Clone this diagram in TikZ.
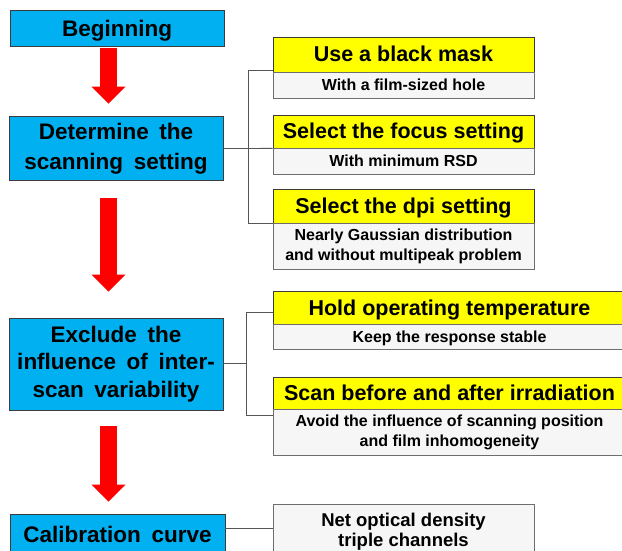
\documentclass[tikz,border=0pt]{standalone}
\usepackage{fontspec}
\setmainfont{Liberation Sans}
\newfontfamily\widefont[WordSpace=1.7]{Liberation Sans}
\usetikzlibrary{arrows.meta,calc}
\definecolor{skyb}{HTML}{00B0F0}
\definecolor{ylw}{HTML}{FFFF00}
\definecolor{boxline}{HTML}{3C3C3C}
\definecolor{wfill}{HTML}{F6F6F6}
\definecolor{wline}{HTML}{6E6E6E}
\definecolor{conncol}{HTML}{555555}
\definecolor{arrred}{HTML}{FF0000}
\begin{document}
\begin{tikzpicture}[x=1pt,y=-1pt,
  bluebox/.style={draw=boxline, fill=skyb, line width=0.8pt, inner sep=0pt,
    align=center, font=\widefont\bfseries\fontsize{22.5}{30}\selectfont},
  yhead/.style={draw=boxline, fill=ylw, line width=0.8pt, inner sep=0pt,
    text height=17pt, text depth=2pt, font=\bfseries\fontsize{21.5}{24}\selectfont},
  wbody/.style={draw=wline, fill=wfill, line width=0.8pt, inner sep=0pt, anchor=north,
    align=center, font=\bfseries\fontsize{16}{20}\selectfont},
  redarrow/.style={arrred, line width=17pt, -{Triangle[width=33pt,length=17pt]}},
  conn/.style={draw=conncol, line width=0.9pt}
]
\useasboundingbox (0,0) rectangle (622,551);
\clip (0,0) rectangle (622,551);
\fill[white] (0,0) rectangle (622,551);

% left column
\node[bluebox, minimum width=214pt, minimum height=36pt, text height=16.5pt, text depth=0pt] (begin) at (117,28) {Beginning};
\node[bluebox, minimum width=214pt, minimum height=64pt] (det) at (116,148.5) {Determine the\\scanning setting};
\node[bluebox, minimum width=214pt, minimum height=92pt, font=\widefont\bfseries\fontsize{22.5}{27.5}\selectfont] (excl) at (116,364) {Exclude the\\influence of inter-\\scan variability};
\node[bluebox, minimum width=215pt, minimum height=40pt, text height=16.5pt, text depth=0pt] (calib) at (117.5,534) {Calibration curve};

% right column, group 1
\node[yhead, minimum width=261pt, minimum height=35pt] (masky) at (403.5,54.5) {Use a black mask};
\node[wbody, minimum width=261pt, minimum height=26pt, text height=12pt, text depth=2pt] (maskw) at (masky.south) {With a film-sized hole};
\node[yhead, minimum width=261pt, minimum height=33pt] (focusy) at (403.5,131.5) {Select the focus setting};
\node[wbody, minimum width=261pt, minimum height=26pt, text height=12pt, text depth=2pt] (focusw) at (focusy.south) {With minimum RSD};
\node[yhead, minimum width=261pt, minimum height=34pt] (dpiy) at (403.5,206) {Select the dpi setting};
\node[wbody, minimum width=261pt, minimum height=46pt] (dpiw) at (dpiy.south) {Nearly Gaussian distribution\\and without multipeak problem};

% right column, group 2
\node[yhead, minimum width=353pt, minimum height=33pt] (holdy) at (449.5,307.5) {Hold operating temperature};
\node[wbody, minimum width=353pt, minimum height=25pt, text height=12pt, text depth=2pt] (holdw) at (holdy.south) {Keep the response stable};
\node[yhead, minimum width=353pt, minimum height=32pt] (scany) at (449.5,393) {Scan before and after irradiation};
\node[wbody, minimum width=353pt, minimum height=46pt] (scanw) at (scany.south) {Avoid the influence of scanning position\\and film inhomogeneity};

% group 3
\node[wbody, anchor=center, minimum width=261pt, minimum height=56pt, font=\bfseries\fontsize{18.5}{20}\selectfont] (net) at (403.5,532) {Net optical density\\triple channels};

% red arrows
\draw[redarrow] ([xshift=-8.5pt,yshift=-2pt]begin.south) -- ([xshift=-7.5pt,yshift=12.5pt]det.north);
\draw[redarrow] ([xshift=-7.5pt,yshift=-17pt]det.south) -- ([xshift=-7.5pt,yshift=26pt]excl.north);
\draw[redarrow] ([xshift=-7.5pt,yshift=-16pt]excl.south) -- ([xshift=-9pt,yshift=12pt]calib.north);

% brackets
\coordinate (j1) at ($(det.east)+(25,0)$);
\draw[conn] (det.east) -- (j1) -- (focusy.south west);
\draw[conn] ([yshift=2pt]masky.south west) -| (j1);
\draw[conn] (dpiy.south west) -| (j1);

\coordinate (j2) at ($(excl.east)+(23,-1)$);
\draw[conn] ([yshift=1pt]excl.east) -- (j2);
\draw[conn] ([yshift=-4.5pt]holdy.west) -| (j2);
\draw[conn] ([yshift=-6pt]scanw.north west) -| (j2);

\draw[conn] ([yshift=6pt]calib.east) -- ([yshift=6pt]calib.east -| net.west);
\end{tikzpicture}
\end{document}
